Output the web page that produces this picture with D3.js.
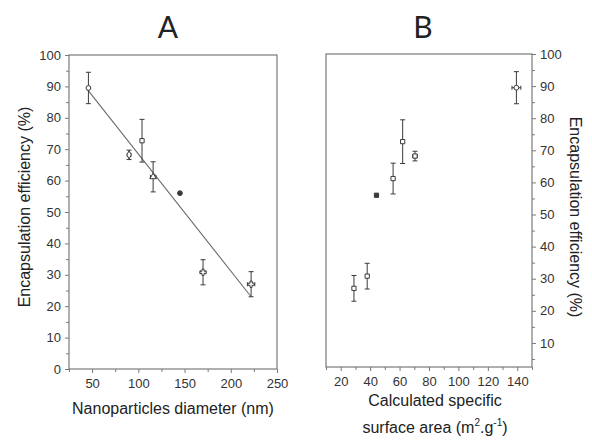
<!DOCTYPE html>
<html>
<head>
<meta charset="utf-8">
<script src="https://cdn.jsdelivr.net/npm/d3@7"></script>
<style>
  body { margin: 0; background: #fff; }
  svg text { font-family: "Liberation Sans", Arial, sans-serif; fill: #222; }
  .tick text { font-size: 13px; fill: #333; }
  .axis path, .axis line { stroke: #7a7a7a; }
</style>
</head>
<body>
<script>
// data
const diameter = [46, 90, 104, 116, 145, 170, 222];
const diameterErr = [0, 2, 0, 3, 0, 3, 4];
const surfaceArea = [139.4, 70.5, 62.1, 55.6, 44.3, 38, 29];
const surfaceErr = [3, 1.5, 0, 0, 0, 0, 0];
const efficiency = [89.5, 68.2, 72.7, 61.2, 56, 30.8, 27];
const efficiencyErr = [5, 1.5, 6.8, 4.8, 0, 4, 4];
const symbolsA = ['circle', 'diamond', 'square', 'triangle', 'dot', 'cross', 'cross'];
const symbolsB = ['circle', 'square', 'square', 'square', 'filled', 'square', 'square'];
const fitX = [45, 222];
const fitY = [89, 23];
const ticksA = [50, 100, 150, 200, 250];
const ticksB = [20, 40, 60, 80, 100, 120, 140];
const ticksY = [0, 10, 20, 30, 40, 50, 60, 70, 80, 90, 100];

const width = 592;
const height = 440;

const svg = d3.select('body').append('svg').
    attr('width', width).
    attr('height', height);

const markColor = '#3a3a3a';

const symbolFor = (name) => ({
    circle: d3.symbolCircle,
    diamond: d3.symbolDiamond,
    square: d3.symbolSquare,
    filled: d3.symbolSquare,
    triangle: d3.symbolTriangle,
    dot: d3.symbolCircle,
    cross: d3.symbolCross
})[name];

const drawPoints = (g, xs, ys, xerr, yerr, syms, x, y) => {
    const pts = xs.map((d, i) => ({ x: d, y: ys[i], xe: xerr[i], ye: yerr[i], s: syms[i] }));
    const cap = 2.5;

    const eb = g.append('g').attr('stroke', markColor).attr('stroke-width', 1);

    pts.filter(p => p.ye > 0).forEach(p => {
        const cx = x(p.x);
        eb.append('line').attr('x1', cx).attr('x2', cx).attr('y1', y(p.y - p.ye)).attr('y2', y(p.y + p.ye));
        eb.append('line').attr('x1', cx - cap).attr('x2', cx + cap).attr('y1', y(p.y + p.ye)).attr('y2', y(p.y + p.ye));
        eb.append('line').attr('x1', cx - cap).attr('x2', cx + cap).attr('y1', y(p.y - p.ye)).attr('y2', y(p.y - p.ye));
    });

    pts.filter(p => p.xe > 0).forEach(p => {
        const cy = y(p.y);
        eb.append('line').attr('x1', x(p.x - p.xe)).attr('x2', x(p.x + p.xe)).attr('y1', cy).attr('y2', cy);
        eb.append('line').attr('x1', x(p.x - p.xe)).attr('x2', x(p.x - p.xe)).attr('y1', cy - 2).attr('y2', cy + 2);
        eb.append('line').attr('x1', x(p.x + p.xe)).attr('x2', x(p.x + p.xe)).attr('y1', cy - 2).attr('y2', cy + 2);
    });

    g.append('g').selectAll('path').data(pts).join('path').
        attr('transform', p => `translate(${x(p.x)},${y(p.y)})`).
        attr('d', p => d3.symbol().type(symbolFor(p.s)).size(p.s === 'cross' ? 22 : 18)()).
        attr('fill', p => (p.s === 'dot' || p.s === 'filled') ? markColor : '#fff').
        attr('stroke', markColor).
        attr('stroke-width', 1);
};

const frame = (x, y) => {
    svg.append('rect').
        attr('x', x.range()[0]).
        attr('y', y.range()[1]).
        attr('width', x.range()[1] - x.range()[0]).
        attr('height', y.range()[0] - y.range()[1]).
        attr('fill', 'none').
        attr('stroke', '#7a7a7a').
        attr('stroke-width', 1.2);
};

const minorTicks = (axisFn, scale, ticks, translate) => {
    svg.append('g').
        attr('class', 'axis').
        attr('transform', translate).
        call(axisFn(scale).tickValues(ticks).tickSize(3).tickFormat('')).
        call(g => g.select('.domain').remove());
};

// ---- panel A
const xA = d3.scaleLinear().domain([25, 250]).range([69, 277]);
const yA = d3.scaleLinear().domain([0, 100]).range([369, 55]);

frame(xA, yA);

svg.append('g').
    attr('class', 'axis').
    attr('transform', `translate(0,${yA.range()[0]})`).
    call(d3.axisBottom(xA).tickValues(ticksA).tickSize(4).tickPadding(6)).
    call(g => g.select('.domain').remove());

minorTicks(d3.axisBottom, xA, d3.range(25, 251, 25).filter(v => v % 50), `translate(0,${yA.range()[0]})`);

svg.append('g').
    attr('class', 'axis').
    attr('transform', `translate(${xA.range()[0]},0)`).
    call(d3.axisLeft(yA).tickValues(ticksY).tickSize(4).tickPadding(4)).
    call(g => g.select('.domain').remove());

minorTicks(d3.axisLeft, yA, d3.range(5, 100, 10), `translate(${xA.range()[0]},0)`);

const gA = svg.append('g');

gA.append('line').
    attr('x1', xA(fitX[0])).attr('y1', yA(fitY[0])).
    attr('x2', xA(fitX[1])).attr('y2', yA(fitY[1])).
    attr('stroke', '#6a6a6a').
    attr('stroke-width', 1.1);

drawPoints(gA, diameter, efficiency, diameterErr, efficiencyErr, symbolsA, xA, yA);

svg.append('text').
    attr('x', 168).attr('y', 38).
    attr('text-anchor', 'middle').
    style('font-family', 'Lato, "Open Sans", sans-serif').
    style('font-size', '30px').
    text('A');

svg.append('text').
    attr('x', 173).attr('y', 414).
    attr('text-anchor', 'middle').
    style('font-size', '16px').
    text('Nanoparticles diameter (nm)');

svg.append('text').
    attr('transform', 'translate(30,207) rotate(-90)').
    attr('text-anchor', 'middle').
    style('font-size', '16px').
    text('Encapsulation efficiency (%)');

// ---- panel B
const xB = d3.scaleLinear().domain([10, 150]).range([326, 532]);
const yB = d3.scaleLinear().domain([2.5, 100]).range([367, 54]);

frame(xB, yB);

svg.append('g').
    attr('class', 'axis').
    attr('transform', `translate(0,${yB.range()[0]})`).
    call(d3.axisBottom(xB).tickValues(ticksB).tickSize(4).tickPadding(6)).
    call(g => g.select('.domain').remove());

minorTicks(d3.axisBottom, xB, d3.range(10, 151, 20), `translate(0,${yB.range()[0]})`);

svg.append('g').
    attr('class', 'axis').
    attr('transform', `translate(${xB.range()[1]},0)`).
    call(d3.axisRight(yB).tickValues(ticksY.filter(v => v > 0)).tickSize(4).tickPadding(4)).
    call(g => g.select('.domain').remove());

minorTicks(d3.axisRight, yB, d3.range(5, 100, 10), `translate(${xB.range()[1]},0)`);

const gB = svg.append('g');

drawPoints(gB, surfaceArea, efficiency, surfaceErr, efficiencyErr, symbolsB, xB, yB);

svg.append('text').
    attr('x', 423).attr('y', 38).
    attr('text-anchor', 'middle').
    style('font-family', 'Lato, "Open Sans", sans-serif').
    style('font-size', '30px').
    text('B');

svg.append('text').
    attr('x', 435).attr('y', 406).
    attr('text-anchor', 'middle').
    style('font-size', '16px').
    text('Calculated specific');

const lbl = svg.append('text').
    attr('x', 435).attr('y', 433).
    attr('text-anchor', 'middle').
    style('font-size', '16px');
lbl.append('tspan').text('surface area (m');
lbl.append('tspan').attr('dy', -7).style('font-size', '10px').text('2');
lbl.append('tspan').attr('dy', 7).text('.g');
lbl.append('tspan').attr('dy', -7).style('font-size', '10px').text('-1');
lbl.append('tspan').attr('dy', 7).text(')');

svg.append('text').
    attr('transform', 'translate(570,217) rotate(90)').
    attr('text-anchor', 'middle').
    style('font-size', '16px').
    text('Encapsulation efficiency (%)');
</script>
</body>
</html>
